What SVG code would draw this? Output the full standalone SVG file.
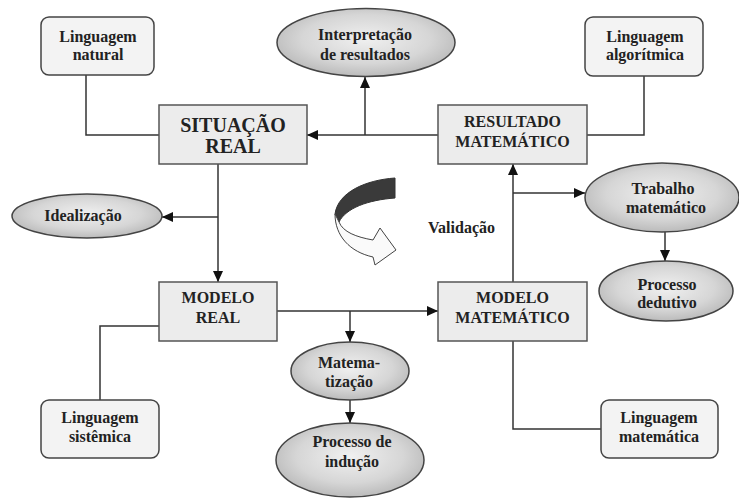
<svg xmlns="http://www.w3.org/2000/svg" width="739" height="499" viewBox="0 0 739 499">
<defs>
  <radialGradient id="eg" cx="50%" cy="45%" r="60%">
    <stop offset="0" stop-color="#f0f0f0"/>
    <stop offset="0.6" stop-color="#d6d6d6"/>
    <stop offset="1" stop-color="#b4b4b4"/>
  </radialGradient>
  <marker id="ah" markerUnits="userSpaceOnUse" markerWidth="12" markerHeight="10" refX="11" refY="5" orient="auto">
    <path d="M0,0 L11,5 L0,10 Z" fill="#111"/>
  </marker>
</defs>
<style>
  text { font-family: "Liberation Serif", "Times New Roman", serif; font-weight: bold; fill: #222; text-anchor: middle; font-size: 16px; }
  .big { font-size: 20px; }
  .box { fill: #ececec; stroke: #555; stroke-width: 1.5; }
  .rbox { fill: #f3f3f3; stroke: #444; stroke-width: 1.5; }
  .ell { fill: url(#eg); stroke: #444; stroke-width: 1.5; }
  .c { fill: none; stroke: #333; stroke-width: 1.5; }
  .a { marker-end: url(#ah); }
</style>
<rect width="739" height="499" fill="#ffffff"/>

<g id="connectors">
  <polyline class="c" points="86,75 86,135 159,135"/>
  <line class="c a" x1="438" y1="135" x2="307" y2="135"/>
  <line class="c a" x1="365" y1="135" x2="365" y2="77"/>
  <line class="c a" x1="218" y1="164" x2="218" y2="282"/>
  <line class="c a" x1="218" y1="217" x2="162" y2="217"/>
  <polyline class="c" points="644,76 644,135 587,135"/>
  <line class="c a" x1="277" y1="311" x2="438" y2="311"/>
  <line class="c a" x1="350" y1="311" x2="350" y2="342"/>
  <line class="c a" x1="350" y1="400" x2="350" y2="423"/>
  <polyline class="c" points="159,326 100,326 100,400"/>
  <line class="c a" x1="513" y1="282" x2="513" y2="164"/>
  <line class="c a" x1="513" y1="193" x2="585" y2="193"/>
  <line class="c a" x1="665" y1="232" x2="665" y2="261"/>
  <polyline class="c" points="513,341 513,429 601,429"/>
</g>

<g id="linguagem-natural">
  <rect class="rbox" x="41" y="17" width="113" height="58" rx="8"/>
  <text x="98" y="42">Linguagem</text>
  <text x="98" y="60">natural</text>
</g>

<g id="interpretacao">
  <ellipse class="ell" cx="366" cy="42.5" rx="89" ry="34"/>
  <text x="365" y="40">Interpretação</text>
  <text x="365" y="60">de resultados</text>
</g>

<g id="linguagem-algoritmica">
  <rect class="rbox" x="585" y="17" width="118" height="59" rx="8"/>
  <text x="645" y="42">Linguagem</text>
  <text x="645" y="60">algorítmica</text>
</g>

<g id="situacao-real">
  <rect class="box" x="159" y="105" width="148" height="59"/>
  <text class="big" x="233" y="132">SITUAÇÃO</text>
  <text class="big" x="233" y="153">REAL</text>
</g>

<g id="resultado-matematico">
  <rect class="box" x="438" y="105" width="149" height="59"/>
  <text x="512.5" y="127">RESULTADO</text>
  <text x="512.5" y="147">MATEMÁTICO</text>
</g>

<g id="idealizacao">
  <ellipse class="ell" cx="87" cy="216" rx="75" ry="22"/>
  <text x="83" y="221">Idealização</text>
</g>

<g id="trabalho-matematico">
  <ellipse class="ell" cx="662" cy="197.5" rx="77" ry="34.5"/>
  <text x="663" y="194">Trabalho</text>
  <text x="666" y="213">matemático</text>
</g>

<g id="validacao">
  <path d="M395,178 C366,180 338,192 335,214 L339,222 C346,208 368,200 395,198 Z" fill="#3a3a3a" stroke="#333" stroke-width="1"/>
  <path d="M335,214 C335,236 350,252 373,257 L375,265 L396,250 L380,228 L373,240 C356,237 343,232 339,222 Z" fill="#fafafa" stroke="#444" stroke-width="1"/>
  <text x="461.5" y="233">Validação</text>
</g>

<g id="processo-dedutivo">
  <ellipse class="ell" cx="666" cy="291" rx="67" ry="30"/>
  <text x="667" y="290">Processo</text>
  <text x="667" y="308">dedutivo</text>
</g>

<g id="modelo-real">
  <rect class="box" x="159" y="282" width="118" height="59"/>
  <text x="218" y="303">MODELO</text>
  <text x="218" y="323">REAL</text>
</g>

<g id="modelo-matematico">
  <rect class="box" x="438" y="282" width="149" height="59"/>
  <text x="512.5" y="303">MODELO</text>
  <text x="512.5" y="323">MATEMÁTICO</text>
</g>

<g id="matematizacao">
  <ellipse class="ell" cx="350" cy="371" rx="59" ry="29"/>
  <text x="349" y="368">Matema-</text>
  <text x="349" y="387">tização</text>
</g>

<g id="processo-inducao">
  <ellipse class="ell" cx="350" cy="460" rx="74" ry="37"/>
  <text x="352" y="447">Processo de</text>
  <text x="352" y="467">indução</text>
</g>

<g id="linguagem-sistemica">
  <rect class="rbox" x="41" y="400" width="118" height="58" rx="8"/>
  <text x="100" y="423">Linguagem</text>
  <text x="100" y="442">sistêmica</text>
</g>

<g id="linguagem-matematica">
  <rect class="rbox" x="601" y="400" width="117" height="58" rx="8"/>
  <text x="659" y="423">Linguagem</text>
  <text x="659" y="442">matemática</text>
</g>
</svg>
